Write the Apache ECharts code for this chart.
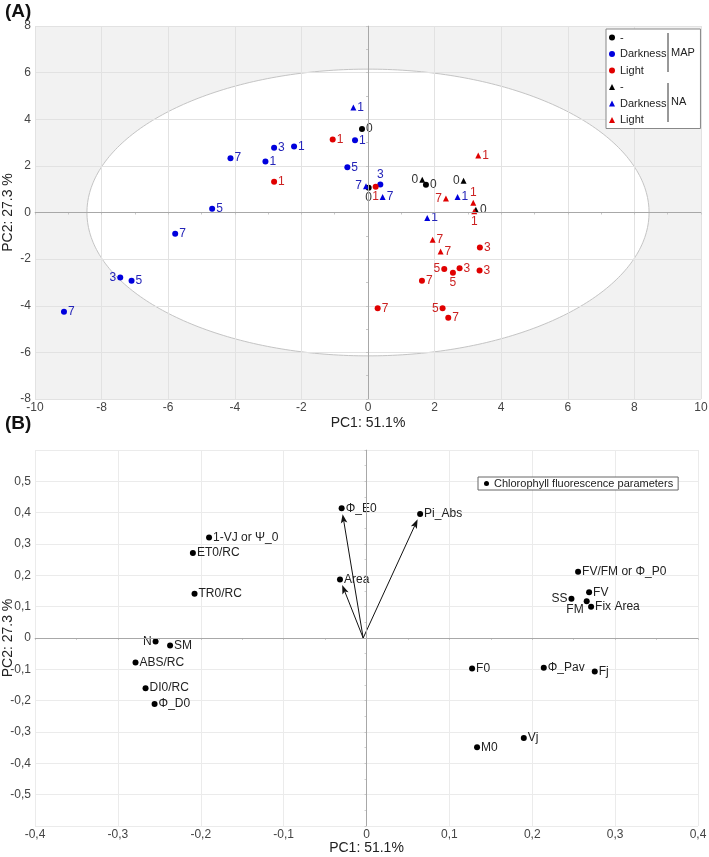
<!DOCTYPE html>
<html>
<head>
<meta charset="utf-8">
<script src="https://cdn.jsdelivr.net/npm/echarts@6/dist/echarts.min.js"></script>
<style>
html,body{margin:0;padding:0;background:#fff;}
#chart{width:709px;height:857px;}
</style>
</head>
<body>
<div id="chart"></div>
<script>
// ---------- Panel A: PCA scores ----------
// [PC1, PC2, label]
const mapNone = [[-0.18,3.58,'0'],[0.02,1.06,'0'],[1.74,1.19,'0']];
const mapDark = [[-0.39,3.10,'1'],[-2.82,2.78,'3'],[-2.22,2.83,'1'],[-4.13,2.33,'7'],[-3.08,2.19,'1'],[-0.62,1.94,'5'],[-4.68,0.16,'5'],[-5.79,-0.91,'7'],[-7.44,-2.79,'3'],[-7.10,-2.93,'5'],[-9.13,-4.26,'7'],[0.37,1.20,'3']];
const mapLight = [[-1.06,3.13,'1'],[-2.82,1.32,'1'],[0.23,1.10,'1'],[3.36,-1.50,'3'],[2.29,-2.42,'5'],[2.55,-2.58,'5'],[2.75,-2.39,'3'],[3.35,-2.49,'3'],[1.62,-2.93,'7'],[0.29,-4.11,'7'],[2.24,-4.11,'5'],[2.41,-4.51,'7']];
const naNone = [[1.63,1.40,'0'],[2.87,1.36,'0'],[3.24,0.12,'0']];
const naDark = [[-0.44,4.50,'1'],[-0.06,1.13,'7'],[0.44,0.67,'7'],[2.69,0.67,'1'],[1.78,-0.24,'1']];
const naLight = [[3.31,2.45,'1'],[2.34,0.60,'7'],[3.16,0.42,'1'],[3.19,0.05,'1'],[1.94,-1.17,'7'],[2.18,-1.67,'7']];
// label placement overrides (index -> side), default right
const mapNonePos = {1:'bottom'};
const mapDarkPos = {8:'left', 11:'top'};
const mapLightPos = {2:'bottom', 4:'left', 5:'bottom', 10:'left'};
const naNonePos = {0:'left', 1:'left'};
const naDarkPos = {1:'left'};
const naLightPos = {1:'left', 2:'top', 3:'bottom'};
// Hotelling ellipse radii (PC1, PC2)
const ellipseRadii = [8.44, 6.15];
const xTicksA = [-10, 10, 2];
const yTicksA = [-8, 8, 2];

// ---------- Panel B: loadings ----------
const paramNames = ['1-VJ or Ψ_0','ET0/RC','TR0/RC','Φ_E0','Area','Pi_Abs','N','SM','ABS/RC','DI0/RC','Φ_D0','FV/FM or Φ_P0','FV','SS','FM','Fix Area','F0','Φ_Pav','Fj','Vj','M0'];
const paramPC1 = [-0.190,-0.2095,-0.2075,-0.030,-0.032,0.0647,-0.2545,-0.237,-0.2787,-0.2666,-0.2557,0.2553,0.2686,0.2473,0.2657,0.271,0.1274,0.2139,0.2754,0.1898,0.1334];
const paramPC2 = [0.321,0.271,0.141,0.414,0.187,0.396,-0.011,-0.024,-0.078,-0.160,-0.211,0.2114,0.146,0.125,0.117,0.100,-0.0975,-0.095,-0.107,-0.319,-0.349];
const paramLabelPos = {'N':'left','SS':'left','FM':'fmBelow'};
const arrowOrigin = [-0.004, 0];
const arrowTargets = ['Φ_E0','Pi_Abs','Area'];

const FONT = '"Liberation Sans", Arial, sans-serif';
const COL = {black:'#000000', blue:'#0000dd', red:'#e00000'};
const LCOL = {black:'#333333', blue:'#2424b8', red:'#cc2222'};

function scoreData(arr, posMap){
  return arr.map((d,i)=>{
    const item = {value:[d[0],d[1]], name:d[2]};
    if(posMap[i]) item.label = {position:posMap[i]};
    return item;
  });
}
function scoreSeries(name, arr, posMap, symbol, colorKey){
  return {
    name, type:'scatter', xAxisIndex:0, yAxisIndex:0,
    symbol, symbolSize: 6,
    itemStyle:{color:COL[colorKey], opacity:1},
    label:{show:true, position:'right', distance:1, formatter:p=>p.name,
      color:LCOL[colorKey], fontSize:12, fontFamily:FONT},
    emphasis:{disabled:true},
    data: scoreData(arr, posMap), z:3
  };
}
const fmtComma = v => Math.abs(v)<1e-9 ? '0' : (Math.round(v*10)/10).toFixed(1).replace('.', ',');

const loadData = paramNames.map((n,i)=>{
  const item = {value:[paramPC1[i], paramPC2[i]], name:n};
  const p = paramLabelPos[n];
  if(p==='left') item.label = {position:'left'};
  else if(p==='fmBelow') item.label = {position:'left', offset:[1,8]};
  return item;
});
const arrowData = arrowTargets.map(n=>{
  const i = paramNames.indexOf(n);
  return [arrowOrigin[0], arrowOrigin[1], paramPC1[i], paramPC2[i]];
});

const axisLabelStyle = {color:'#444', fontSize:12, fontFamily:FONT};
const nameStyle = {color:'#222', fontSize:14, fontFamily:FONT};

const option = {
  animation:false,
  backgroundColor:'#ffffff',
  textStyle:{fontFamily:FONT},
  grid:[
    {left:35, top:26, width:666, height:373, containLabel:false, outerBoundsMode:'none'},
    {left:35, top:450, width:663, height:376, containLabel:false, outerBoundsMode:'none'}
  ],
  xAxis:[
    {gridIndex:0, type:'value', min:xTicksA[0], max:xTicksA[1], interval:xTicksA[2],
     name:'PC1: 51.1%', nameLocation:'middle', nameGap:17, nameMoveOverlap:false, nameTextStyle:nameStyle,
     axisLine:{show:true, lineStyle:{color:'#c8c8c8'}},
     axisTick:{show:true, length:2, lineStyle:{color:'#c8c8c8'}},
     minorTick:{show:true, splitNumber:2, length:2, lineStyle:{color:'#c8c8c8'}},
     axisLabel:{...axisLabelStyle, margin:3},
     splitLine:{show:true, lineStyle:{color:'#e2e2e2'}}},
    {gridIndex:1, type:'value', min:-0.4, max:0.4, interval:0.1,
     name:'PC1: 51.1%', nameLocation:'middle', nameGap:15, nameMoveOverlap:false, nameTextStyle:nameStyle,
     axisLine:{show:true, lineStyle:{color:'#c8c8c8'}},
     axisTick:{show:true, length:2, lineStyle:{color:'#c8c8c8'}},
     minorTick:{show:true, splitNumber:2, length:2, lineStyle:{color:'#d0d0d0'}},
     axisLabel:{...axisLabelStyle, margin:3, formatter:fmtComma},
     splitLine:{show:true, lineStyle:{color:'#ebebeb'}}}
  ],
  yAxis:[
    {gridIndex:0, type:'value', min:yTicksA[0], max:yTicksA[1], interval:yTicksA[2],
     name:'PC2: 27.3 %', nameLocation:'middle', nameGap:20, nameMoveOverlap:false, nameTextStyle:nameStyle,
     axisLine:{show:true, lineStyle:{color:'#c8c8c8'}},
     axisTick:{show:true, length:2, lineStyle:{color:'#c8c8c8'}},
     minorTick:{show:true, splitNumber:2, length:2, lineStyle:{color:'#c8c8c8'}},
     axisLabel:{...axisLabelStyle, margin:4},
     splitLine:{show:true, lineStyle:{color:'#e2e2e2'}}},
    {gridIndex:1, type:'value', min:-0.6, max:0.6, interval:0.1,
     name:'PC2: 27.3 %', nameLocation:'middle', nameGap:20, nameMoveOverlap:false, nameTextStyle:nameStyle,
     axisLine:{show:true, lineStyle:{color:'#c8c8c8'}},
     axisTick:{show:true, length:2, lineStyle:{color:'#c8c8c8'}},
     minorTick:{show:true, splitNumber:2, length:2, lineStyle:{color:'#d0d0d0'}},
     axisLabel:{...axisLabelStyle, margin:4, formatter:v=>Math.abs(v)>0.55?'':fmtComma(v)},
     splitLine:{show:true, lineStyle:{color:'#ebebeb'}}}
  ],
  legend:[
    {left:606, top:29, orient:'vertical', padding:[3,34,3,3], itemGap:5.5,
     itemWidth:6, itemHeight:6, borderColor:'#888', borderWidth:1, backgroundColor:'#fff',
     selectedMode:false,
     textStyle:{fontSize:11, color:'#222', fontFamily:FONT},
     formatter:n=>n.replace(/^(MAP|NA) /,''),
     data:['MAP -','MAP Darkness','MAP Light','NA -','NA Darkness','NA Light']},
    {left:478, top:477, orient:'horizontal', padding:[1,5,1,6],
     itemWidth:5, itemHeight:5, borderColor:'#666', borderWidth:1, backgroundColor:'#fff',
     selectedMode:false,
     textStyle:{fontSize:11, color:'#222', fontFamily:FONT},
     data:['Chlorophyll fluorescence parameters']}
  ],
  graphic:[
    {type:'text', left:5, top:2, style:{text:'(A)', font:'bold 19px '+FONT, fill:'#111'}},
    {type:'text', left:5, top:414, style:{text:'(B)', font:'bold 19px '+FONT, fill:'#111'}},
    {type:'line', shape:{x1:668, y1:33, x2:668, y2:72}, style:{stroke:'#333', lineWidth:1}, z:100},
    {type:'line', shape:{x1:668, y1:83, x2:668, y2:122}, style:{stroke:'#333', lineWidth:1}, z:100},
    {type:'text', left:671, top:47, style:{text:'MAP', font:'11px '+FONT, fill:'#222'}, z:100},
    {type:'text', left:671, top:96, style:{text:'NA', font:'11px '+FONT, fill:'#222'}, z:100}
  ],
  series:[
    {type:'custom', xAxisIndex:0, yAxisIndex:0, z:-1, silent:true,
     data:[[0,0,ellipseRadii[0],ellipseRadii[1]]],
     renderItem:(params, api)=>{
       const cs = params.coordSys;
       const cx = api.value(0), cy = api.value(1), rx = api.value(2), ry = api.value(3);
       const pts = [];
       for(let k=0;k<360;k++){
         const t = k*Math.PI/180;
         pts.push(api.coord([cx+rx*Math.cos(t), cy+ry*Math.sin(t)]));
       }
       return {type:'group', children:[
         {type:'rect', shape:{x:cs.x, y:cs.y, width:cs.width, height:cs.height}, style:{fill:'#f2f2f2'}},
         {type:'polygon', shape:{points:pts}, style:{fill:'#ffffff', stroke:'#c4c4c4', lineWidth:1}}
       ]};
     }},
    {type:'scatter', xAxisIndex:0, yAxisIndex:0, data:[], silent:true,
     markLine:{silent:true, symbol:['none','none'], label:{show:false},
       lineStyle:{color:'#a8a8a8', type:'solid', width:1},
       data:[{xAxis:0},{yAxis:0}]}},
    scoreSeries('MAP -', mapNone, mapNonePos, 'circle', 'black'),
    scoreSeries('MAP Darkness', mapDark, mapDarkPos, 'circle', 'blue'),
    scoreSeries('MAP Light', mapLight, mapLightPos, 'circle', 'red'),
    scoreSeries('NA -', naNone, naNonePos, 'triangle', 'black'),
    scoreSeries('NA Darkness', naDark, naDarkPos, 'triangle', 'blue'),
    scoreSeries('NA Light', naLight, naLightPos, 'triangle', 'red'),
    {type:'scatter', xAxisIndex:1, yAxisIndex:1, data:[], silent:true,
     markLine:{silent:true, symbol:['none','none'], label:{show:false},
       lineStyle:{color:'#a8a8a8', type:'solid', width:1},
       data:[{xAxis:0},{yAxis:0}]}},
    {type:'custom', xAxisIndex:1, yAxisIndex:1, silent:true, z:3,
     encode:{x:[0,2], y:[1,3]},
     data:arrowData,
     renderItem:(params, api)=>{
       const o = api.coord([api.value(0), api.value(1)]);
       const p = api.coord([api.value(2), api.value(3)]);
       const dx = p[0]-o[0], dy = p[1]-o[1];
       const L = Math.hypot(dx,dy), ux = dx/L, uy = dy/L, nx = -uy, ny = ux;
       const tip = [p[0]-ux*6, p[1]-uy*6];
       const hl = 9, hw = 3.3;
       const base = [tip[0]-ux*hl, tip[1]-uy*hl];
       const notch = [tip[0]-ux*(hl-2), tip[1]-uy*(hl-2)];
       return {type:'group', children:[
         {type:'line', shape:{x1:o[0], y1:o[1], x2:notch[0], y2:notch[1]}, style:{stroke:'#111', lineWidth:1}},
         {type:'polygon', shape:{points:[tip,[base[0]+nx*hw, base[1]+ny*hw], notch, [base[0]-nx*hw, base[1]-ny*hw]]}, style:{fill:'#111'}}
       ]};
     }},
    {name:'Chlorophyll fluorescence parameters', type:'scatter', xAxisIndex:1, yAxisIndex:1,
     symbol:'circle', symbolSize:6, itemStyle:{color:'#000', opacity:1}, z:4,
     emphasis:{disabled:true},
     label:{show:true, position:'right', distance:1, formatter:p=>p.name, color:'#222', fontSize:12, fontFamily:FONT},
     data:loadData}
  ]
};
const chart = echarts.init(document.getElementById('chart'), null, {renderer:'canvas'});
chart.setOption(option);
</script>
</body>
</html>
